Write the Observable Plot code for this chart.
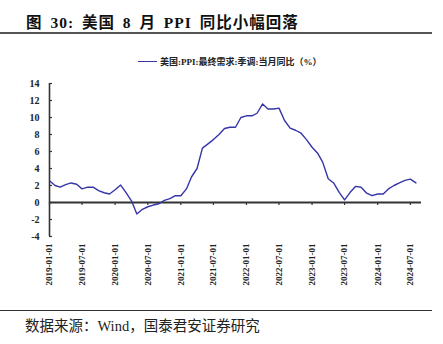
<!DOCTYPE html>
<html>
<head>
<meta charset="utf-8">
<script src="https://cdn.jsdelivr.net/npm/d3@7"></script>
<script src="https://cdn.jsdelivr.net/npm/@observablehq/plot@0.6"></script>
<style>
  body { margin:0; width:443px; height:344px; background:#fff; position:relative; overflow:hidden; }
  .t { position:absolute; white-space:nowrap; color:#111; }
  #title { left:26px; top:10px; font:bold 15.5px "Liberation Serif","Noto Sans CJK SC"; letter-spacing:1px; word-spacing:3px; }
  #rule1 { position:absolute; left:0; top:32px; width:432px; height:2px; background:#555; }
  #legend { left:138px; top:55px; font:bold 9px "Liberation Serif","Noto Sans CJK SC"; color:#222; }
  #legend span.sw { display:inline-block; width:19px; height:0; border-top:1.5px solid #3535a8; vertical-align:middle; margin-right:3px; position:relative; top:-1px; }
  #rule2 { position:absolute; left:0; top:310px; width:432px; height:1px; background:#333; }
  #caption { left:25px; top:314px; font:14.5px "Liberation Serif","Noto Sans CJK SC"; color:#222; }
  #chart { position:absolute; left:0; top:75px; }
</style>
</head>
<body>
<div class="t" id="title">图 30: 美国 8 月 PPI 同比小幅回落</div>
<div id="rule1"></div>
<div class="t" id="legend"><span class="sw"></span>美国:PPI:最终需求:季调:当月同比（%）</div>
<div id="chart"></div>
<div id="rule2"></div>
<div class="t" id="caption">数据来源：Wind，国泰君安证券研究</div>
<script>
// Monthly data, 2019-01 .. 2024-08
const startMonth = "2019-01-01";
const values = [
  2.55, 2.0, 1.8, 2.1, 2.3, 2.15, 1.6, 1.8, 1.8, 1.4, 1.15, 1.0,
  1.5, 2.05, 1.2, 0.2, -1.35, -0.8, -0.5, -0.3, -0.15, 0.25, 0.45, 0.8,
  0.8, 1.6, 3.0, 4.0, 6.4, 6.9, 7.4, 8.0, 8.7, 8.85, 8.85, 10.0,
  10.2, 10.2, 10.5, 11.6, 11.0, 11.0, 11.1, 9.65, 8.75, 8.5, 8.15, 7.4,
  6.5, 5.8, 4.75, 2.8, 2.3, 1.2, 0.3, 1.2, 1.9, 1.8, 1.1, 0.8,
  1.0, 1.0, 1.6, 2.0, 2.3, 2.6, 2.75, 2.3
];
const xTickLabels = ["2019-01-01","2019-07-01","2020-01-01","2020-07-01","2021-01-01","2021-07-01",
  "2022-01-01","2022-07-01","2023-01-01","2023-07-01","2024-01-01","2024-07-01"];
const yTicks = [-4,-2,0,2,4,6,8,10,12,14];
const xDomain = ["2019-01-01","2024-09-01"];

const s = new Date(startMonth);
const data = values.map((v,i) => ({date: d3.utcMonth.offset(s, i), value: v}));
const xTicks = xTickLabels.map(d => new Date(d));
const x0 = new Date(xDomain[0]);
const font = "Liberation Serif";

const chart = Plot.plot({
  width: 443, height: 225,
  marginLeft: 49, marginRight: 22, marginTop: 8, marginBottom: 64,
  style: {fontFamily: font, background: "transparent"},
  x: {type: "utc", domain: xDomain.map(d => new Date(d))},
  y: {domain: [-4, 14]},
  marks: [
    Plot.axisY({ticks: yTicks, tickSize: 0, tickPadding: 10, tickFormat: d => String(d), label: null,
      fontSize: 10, fontWeight: "bold", fill: "#222"}),
    Plot.axisX({ticks: xTicks, tickSize: 0, tickPadding: 7, tickRotate: -90, label: null,
      tickFormat: d3.utcFormat("%Y-%m-%d"), fontSize: 9, fontWeight: "bold", fill: "#222"}),
    Plot.ruleX([x0], {stroke: "#333", strokeWidth: 1.6}),
    Plot.ruleY(yTicks, {y: d => d, x1: x0, x2: x0, insetRight: -3, stroke: "#333", strokeWidth: 1.2}),
    Plot.ruleY([0], {stroke: "#333", strokeWidth: 2}),
    Plot.ruleX(xTicks, {x: d => d, y1: 0, y2: 0, insetBottom: -3, stroke: "#333", strokeWidth: 1.2}),
    Plot.line(data, {x: "date", y: "value", stroke: "#3535a8", strokeWidth: 1.4})
  ]
});
document.getElementById("chart").appendChild(chart);
</script>
</body>
</html>
